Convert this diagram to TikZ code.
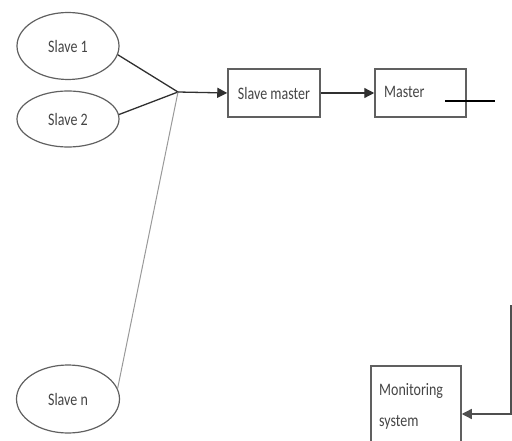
\documentclass[tikz,border=0pt]{standalone}
\usepackage{fontspec}
\setmainfont[FakeStretch=0.8]{Carlito}
\usetikzlibrary{shapes.geometric,arrows.meta}
\definecolor{txtc}{HTML}{454545}
\definecolor{boxc}{HTML}{606060}
\definecolor{linec}{HTML}{303030}
\tikzset{
  lbl/.style={text=txtc,font=\fontsize{17.5}{17.5}\selectfont},
  slave/.style={ellipse,draw=boxc,line width=1.2pt,inner sep=0pt,lbl},
  blk/.style={rectangle,draw=boxc,line width=1.5pt,inner sep=0pt,lbl},
  conn/.style={draw=linec,line width=1.3pt},
  arr/.style={conn,-{Triangle[length=10pt,width=10pt]}},
}
\begin{document}
\begin{tikzpicture}[x=1pt,y=-1pt]
\useasboundingbox (0,0) rectangle (512,441);
\node[slave,minimum width=102pt,minimum height=67pt] (s1) at (68,46) {Slave 1};
\node[slave,minimum width=102pt,minimum height=56pt] (s2) at (68,119) {Slave 2};
\node[slave,minimum width=103pt,minimum height=68pt] (s3) at (68,399) {Slave n};
\coordinate (j) at (178,92);
\node[blk,minimum width=92pt,minimum height=48pt] (sm) at (274,93) {Slave master};
\node[blk,minimum width=91pt,minimum height=48pt] (m) at (420.5,93) {};
\node[lbl,anchor=west,inner sep=0pt] (mt) at (384,92) {Master};
\node[blk,minimum width=90pt,minimum height=82pt] (mon) at (416,407) {};
\node[lbl,anchor=west,inner sep=0pt] (mon1) at (379,391) {Monitoring};
\node[lbl,anchor=west,inner sep=0pt] (mon2) at (379,422) {system};
\draw[conn] (s1.-10) -- (j);
\draw[conn] (s2.5) -- (j);
\draw[conn,draw=gray!80,line width=1pt] (s3.12) -- (j);
\draw[arr] (j) -- (sm.west);
\draw[arr] (sm.east) -- (m.west);
\coordinate (l1) at (445,101);
\coordinate (l2) at (495,101);
\draw[black,line width=1.6pt] (l1) -- (l2);
\coordinate (v1) at (511,305);
\coordinate (v2) at (511,414);
\draw[arr,draw=linec!85] (v1) -- (v2) -- (v2 -| mon.east);
\end{tikzpicture}
\end{document}
